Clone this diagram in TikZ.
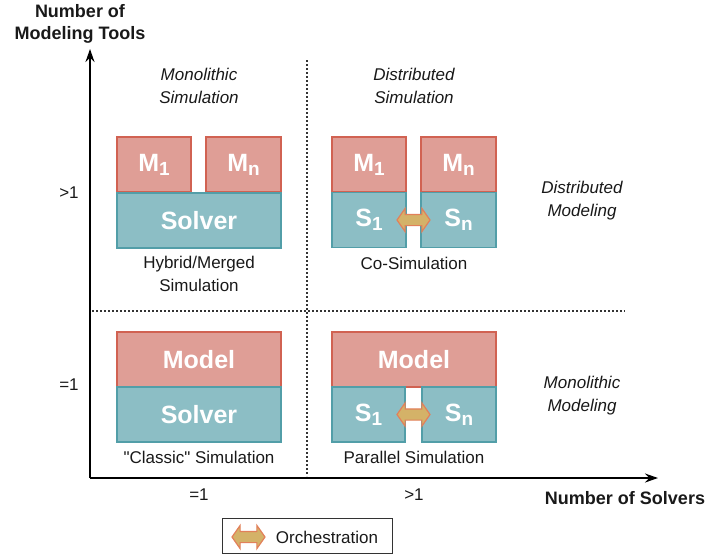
\documentclass[tikz,border=0pt]{standalone}
\usepackage{fontspec}
\setmainfont{Liberation Sans}[Ligatures=TeXOff]
\usetikzlibrary{arrows.meta,shapes.arrows,calc}

\definecolor{modelfill}{RGB}{223,158,150}
\definecolor{modelline}{RGB}{209,98,82}
\definecolor{solverfill}{RGB}{140,190,197}
\definecolor{solverline}{RGB}{82,158,168}
\definecolor{orchfill}{RGB}{212,178,104}
\definecolor{orchline}{RGB}{226,128,90}

% index below a box letter
\newcommand{\boxidx}[1]{\raisebox{-0.3ex}{\fontsize{19}{19}\selectfont #1}}

\begin{document}
\begin{tikzpicture}
  [x=1pt,y=-1pt,
    every node/.style={text=black!90,inner sep=0pt},
    label/.style={align=center,font=\fontsize{17}{23}\selectfont},
    cat/.style={label,font=\fontsize{17}{23}\selectfont\itshape},
    axistitle/.style={align=center,font=\fontsize{18}{22}\selectfont\bfseries},
    modelbox/.style={draw=modelline,fill=modelfill,line width=1.5pt,text=white,
      font=\fontsize{25}{25}\selectfont\bfseries,minimum height=55pt},
    solverbox/.style={modelbox,draw=solverline,fill=solverfill},
    orch/.style={double arrow,draw=orchline,fill=orchfill,line width=1.2pt,
      minimum height=33pt,inner xsep=0pt,inner ysep=5pt,double arrow head extend=6pt,
      double arrow head indent=0pt,double arrow tip angle=110},
    axis/.style={line width=2pt,-{Stealth[length=13pt,width=9pt]}},
    split/.style={line width=1.2pt,black!80,dash pattern=on 2pt off 2pt},
  ]
  \useasboundingbox (0,0) rectangle (708,558);

  % axes
  \coordinate (origin) at (90,478);
  \coordinate (ytip) at (90,49);
  \coordinate (xtip) at (658,478);
  \draw[axis] (origin) -- (ytip);
  \draw[axis] (origin) -- (xtip);
  \node[axistitle] (ytitle) at (80,24) {Number of\\Modeling Tools};
  \node[axistitle] (xtitle) at (625,498) {Number of Solvers};

  % quadrant borders
  \coordinate (vtop) at (307,60);
  \coordinate (vbot) at (307,476);
  \coordinate (hleft) at (92,311);
  \coordinate (hright) at (625,311);
  \draw[split] (vtop) -- (vbot);
  \draw[split] (hleft) -- (hright);

  % ticks
  \node[label] (ymany) at (69,193) {>1};
  \node[label] (yone) at (69,385) {=1};
  \node[label] (xone) at (199,495) {=1};
  \node[label] (xmany) at (414,495) {>1};

  % categories
  \node[cat] (monosim) at (199,86) {Monolithic\\Simulation};
  \node[cat] (distsim) at (414,86) {Distributed\\Simulation};
  \node[cat] (distmod) at (582,201) {Distributed\\Modeling};
  \node[cat] (monomod) at (582,396) {Monolithic\\Modeling};

  % hybrid / merged
  \node[modelbox,minimum width=74pt] (hm1) at (154,164.5) {M\boxidx{1}};
  \node[modelbox,minimum width=75pt] (hmn) at (243.5,164.5) {M\boxidx{n}};
  \node[solverbox,minimum width=164pt] (hsolver) at (199,220.5) {Solver};
  \node[label] (hybrid) at (199,274) {Hybrid/Merged\\Simulation};

  % co-simulation
  \node[modelbox,minimum width=74pt] (cm1) at (369,164.5) {M\boxidx{1}};
  \node[modelbox,minimum width=75pt] (cmn) at (458.5,164.5) {M\boxidx{n}};
  \node[solverbox,minimum width=74pt] (cs1) at (369,220) {S\boxidx{1}};
  \node[solverbox,minimum width=75pt] (csn) at (458.5,220) {S\boxidx{n}};
  \node[orch] (corch) at ($(cs1.east)!0.5!(csn.west)$) {};
  \node[label] (cosim) at (414,263) {Co-Simulation};

  % classic
  \node[modelbox,minimum width=164pt] (lmodel) at (199,359.5) {Model};
  \node[solverbox,minimum width=164pt] (lsolver) at (199,414.5) {Solver};
  \node[label] (classic) at (199,457) {"Classic" Simulation};

  % parallel
  \node[modelbox,minimum width=164pt] (pmodel) at (414,359.5) {Model};
  \node[solverbox,minimum width=73pt] (ps1) at (368.5,414.5) {S\boxidx{1}};
  \node[solverbox,minimum width=74pt] (psn) at (459,414.5) {S\boxidx{n}};
  \node[orch] (porch) at ($(ps1.east)!0.5!(psn.west)$) {};
  \node[label] (parallel) at (414,457) {Parallel Simulation};

  % legend
  \node[draw=black!80,line width=1pt,minimum width=170pt,minimum height=35pt] (legend) at (307,535.5) {};
  \node[orch] (lorch) at (248.5,537) {};
  \node[label] (orchtext) at (327,537) {Orchestration};
\end{tikzpicture}
\end{document}
